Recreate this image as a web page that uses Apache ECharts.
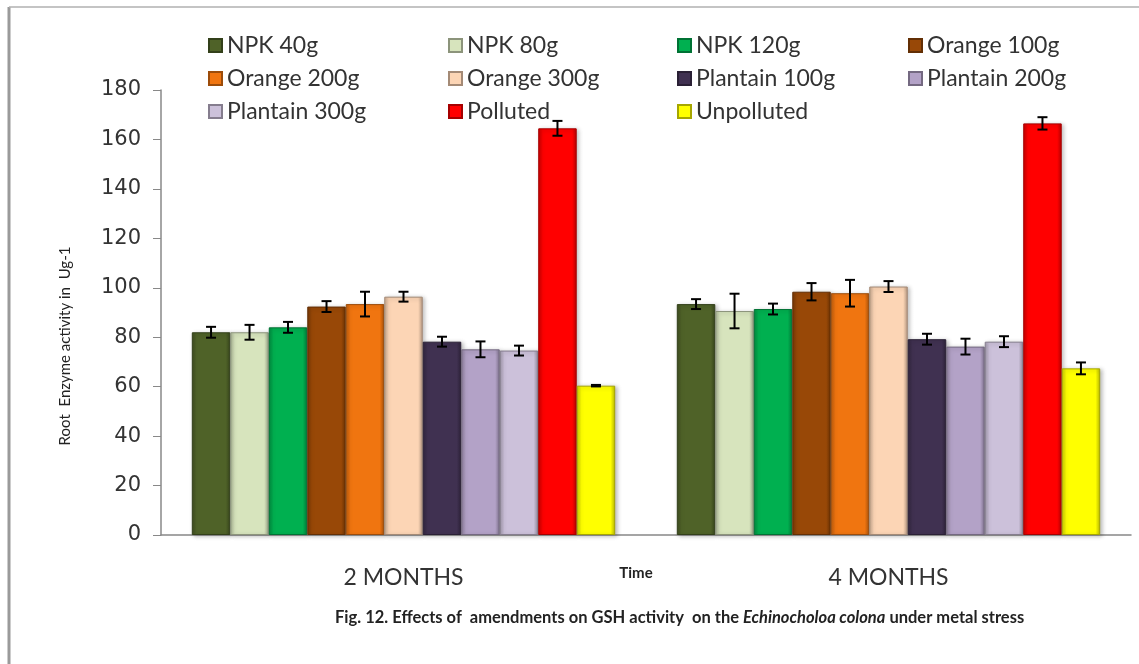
<!DOCTYPE html>
<html>
<head>
<meta charset="utf-8">
<script src="https://cdn.jsdelivr.net/npm/echarts@6/dist/echarts.min.js"></script>
<style>
  html, body { margin: 0; padding: 0; background: #fff; }
  #chart { width: 1139px; height: 664px; }
</style>
</head>
<body>
<div id="chart"></div>
<script type="text/javascript">
// data
var categories = ['2 MONTHS', '4 MONTHS'];
var seriesNames = ['NPK 40g', 'NPK 80g', 'NPK 120g', 'Orange 100g', 'Orange 200g', 'Orange 300g',
  'Plantain 100g', 'Plantain 200g', 'Plantain 300g', 'Polluted', 'Unpolluted'];
var mean2m = [82.0, 82.0, 84.0, 92.4, 93.4, 96.4, 78.2, 75.1, 74.6, 164.5, 60.4];
var mean4m = [93.4, 90.6, 91.4, 98.4, 97.8, 100.5, 79.2, 76.2, 78.2, 166.5, 67.4];
var err2m = [2.2, 3.0, 2.2, 2.2, 5.0, 2.0, 2.0, 3.2, 2.0, 3.0, 0.3];
var err4m = [2.0, 7.0, 2.2, 3.5, 5.4, 2.2, 2.2, 3.2, 2.2, 2.5, 2.4];
var yTicks = [0, 20, 40, 60, 80, 100, 120, 140, 160, 180];

var colors = ['#4f6228', '#d7e4bd', '#00b050', '#984807', '#f07510', '#fcd5b5',
  '#403151', '#b3a2c7', '#ccc1da', '#ff0000', '#ffff00'];
// legend columns, like the excel layout (4 per row)
var legendCols = [
  ['NPK 40g', 'Orange 200g', 'Plantain 300g'],
  ['NPK 80g', 'Orange 300g', 'Polluted'],
  ['NPK 120g', 'Plantain 100g', 'Unpolluted'],
  ['Orange 100g', 'Plantain 200g']
];
var legendLeft = [203, 443, 672, 903];
var catGap = 0.127;

function shade(hex, f) {
  var n = parseInt(hex.slice(1), 16);
  var r = (n >> 16) & 255, g = (n >> 8) & 255, b = n & 255;
  r = Math.round(r * f); g = Math.round(g * f); b = Math.round(b * f);
  return 'rgb(' + r + ',' + g + ',' + b + ')';
}
function bevel(hex) {
  return new echarts.graphic.LinearGradient(0, 0, 1, 0, [
    { offset: 0, color: shade(hex, 0.78) },
    { offset: 0.12, color: hex },
    { offset: 0.88, color: hex },
    { offset: 1, color: shade(hex, 0.72) }
  ]);
}

var series = [];
for (var i = 0; i < seriesNames.length; i++) {
  series.push({
    name: seriesNames[i],
    type: 'bar',
    barGap: 0,
    barCategoryGap: (catGap * 100) + '%',
    data: [mean2m[i], mean4m[i]],
    itemStyle: {
      color: bevel(colors[i]),
      borderColor: shade(colors[i], 0.65),
      borderWidth: 1,
      shadowBlur: 4,
      shadowOffsetX: 2,
      shadowOffsetY: 1,
      shadowColor: 'rgba(0,0,0,0.25)'
    }
  });
}

var errData = [];
for (var s = 0; s < seriesNames.length; s++) {
  errData.push([0, s, mean2m[s], err2m[s]]);
  errData.push([1, s, mean4m[s], err4m[s]]);
}
series.push({
  type: 'custom',
  name: 'err',
  z: 10,
  silent: true,
  encode: { x: 0, y: 2 },
  data: errData,
  renderItem: function (params, api) {
    var cat = api.value(0), idx = api.value(1), v = api.value(2), e = api.value(3);
    var band = api.size([1, 0])[0];
    var groupW = band * (1 - catGap);
    var bw = groupW / seriesNames.length;
    var c = api.coord([cat, v]);
    var x = c[0] - groupW / 2 + bw * (idx + 0.5);
    var yt = api.coord([cat, v + e])[1];
    var yb = api.coord([cat, v - e])[1];
    var st = { stroke: '#000', lineWidth: 2 };
    return {
      type: 'group',
      children: [
        { type: 'line', shape: { x1: x, y1: yt, x2: x, y2: yb }, style: st },
        { type: 'line', shape: { x1: x - 5, y1: yt, x2: x + 5, y2: yt }, style: st },
        { type: 'line', shape: { x1: x - 5, y1: yb, x2: x + 5, y2: yb }, style: st }
      ]
    };
  }
});

var legends = legendCols.map(function (col, k) {
  return {
    orient: 'vertical',
    left: legendLeft[k],
    top: 29,
    itemGap: 10,
    itemWidth: 13,
    itemHeight: 13,
    icon: 'rect',
    selectedMode: false,
    data: col,
    textStyle: { fontFamily: 'Lato', fontSize: 23, color: '#333' }
  };
});

var myChart = echarts.init(document.getElementById('chart'));
var option = {
  backgroundColor: '#fff',
  animation: false,
  color: colors,
  title: {
    left: 330,
    top: 604,
    text: '{b|Fig. 12. Effects of  amendments on GSH activity  on the }{i|Echinocholoa colona}{b| under metal stress}',
    textStyle: {
      rich: {
        b: { fontFamily: 'Lato', fontWeight: 'bold', fontSize: 16.5, color: '#222' },
        i: { fontFamily: 'Lato', fontStyle: 'italic', fontSize: 16.5, color: '#222' }
      }
    }
  },
  legend: legends,
  grid: { left: 161, right: 8, top: 90, bottom: 129 },
  xAxis: {
    type: 'category',
    data: categories,
    axisLine: { lineStyle: { color: '#888', width: 1.5 } },
    axisTick: { show: false },
    axisLabel: { fontFamily: 'Lato', fontSize: 23, color: '#333', margin: 31 }
  },
  yAxis: {
    type: 'value',
    min: 0,
    max: 180,
    interval: 20,
    axisLine: { show: true, lineStyle: { color: '#888', width: 1.5 } },
    axisTick: { show: true, length: 8, lineStyle: { color: '#888' } },
    splitLine: { show: false },
    axisLabel: {
      fontFamily: 'DejaVu Sans', fontSize: 21, color: '#333', margin: 20,
      formatter: function (v) { return yTicks.indexOf(v) >= 0 ? String(v) : ''; }
    }
  },
  graphic: [
    { type: 'line', shape: { x1: 9, y1: 7, x2: 9, y2: 664 }, style: { stroke: '#9a9a9a', lineWidth: 3 } },
    { type: 'line', shape: { x1: 9, y1: 7, x2: 1139, y2: 7 }, style: { stroke: '#b0b0b0', lineWidth: 1.5 } },
    {
      type: 'text', x: 65, y: 346, rotation: Math.PI / 2,
      style: { text: 'Root  Enzyme activity in  Ug-1', fontFamily: 'Lato', fontSize: 15, fill: '#222',
        align: 'center', verticalAlign: 'middle' }
    },
    {
      type: 'text', x: 636, y: 573,
      style: { text: 'Time', fontFamily: 'Lato', fontWeight: 'bold', fontSize: 15, fill: '#222',
        align: 'center', verticalAlign: 'middle' }
    }
  ],
  series: series
};
myChart.setOption(option);
</script>
</body>
</html>
